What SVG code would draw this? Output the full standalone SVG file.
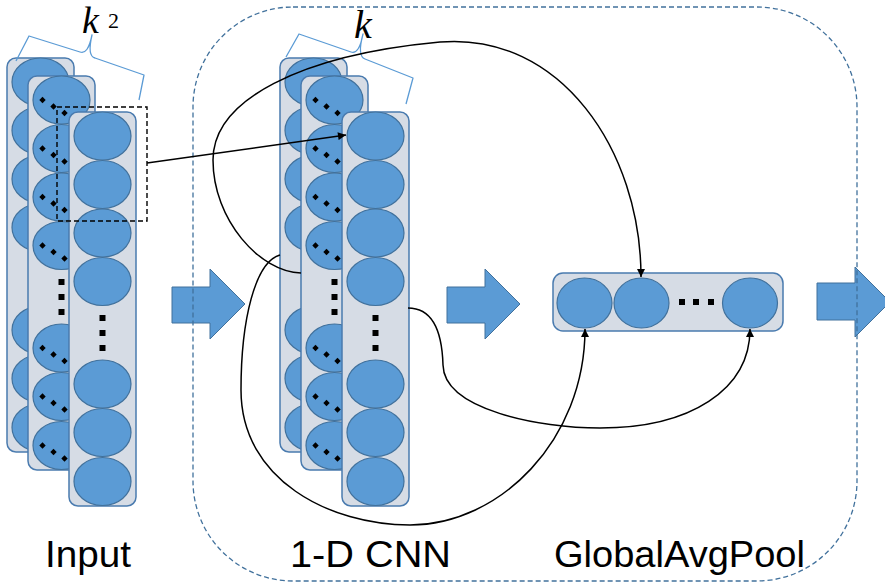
<svg xmlns="http://www.w3.org/2000/svg" width="885" height="583" viewBox="0 0 885 583">
  <style>
    .col{fill:#D6DCE5;stroke:#4A7BAF;stroke-width:1.5}
    .cell{fill:#5B9BD5;stroke:#41719C;stroke-width:1.2}
    .sq{fill:#000}
    .brace{fill:none;stroke:#5B9BD5;stroke-width:1.3;stroke-linejoin:round}
    .blk{fill:#5B9BD5;stroke:#41719C;stroke-width:1}
    .frame{fill:none;stroke:#41719C;stroke-width:1.3;stroke-dasharray:5 3}
    .sel{fill:none;stroke:#000;stroke-width:1.4;stroke-dasharray:5 3}
    .wire{fill:none;stroke:#000;stroke-width:1.5}
    .label{font-family:"Liberation Sans",Arial,sans-serif;font-size:37px;fill:#000}
    .math{font-family:"Liberation Serif","Times New Roman",serif;fill:#000}
  </style>
  <defs>
    <marker id="ah" viewBox="0 0 10 10" refX="10" refY="5" markerWidth="9" markerHeight="8" markerUnits="userSpaceOnUse" orient="auto">
      <path d="M0,0 L10,5 L0,10 z" fill="#000"/>
    </marker>
    <!-- one feature column: rounded bar holding seven cells -->
    <g id="column">
      <rect class="col" x="0" y="0" width="67" height="394" rx="9"/>
      <ellipse class="cell" cx="33.5" cy="24" rx="28.5" ry="24"/>
      <ellipse class="cell" cx="33.5" cy="72.5" rx="28.5" ry="24"/>
      <ellipse class="cell" cx="33.5" cy="121" rx="28.5" ry="24"/>
      <ellipse class="cell" cx="33.5" cy="169.5" rx="28.5" ry="24"/>
      <ellipse class="cell" cx="33.5" cy="272" rx="28.5" ry="24"/>
      <ellipse class="cell" cx="33.5" cy="320.5" rx="28.5" ry="24"/>
      <ellipse class="cell" cx="33.5" cy="369.5" rx="28.5" ry="24"/>
    </g>
    <!-- vertical ellipsis between the cell groups -->
    <g id="vdots" class="sq">
      <rect x="30.5" y="203" width="6" height="6"/>
      <rect x="30.5" y="218" width="6" height="6"/>
      <rect x="30.5" y="233" width="6" height="6"/>
    </g>
    <!-- slanted ellipsis inside a cell -->
    <g id="ddots" class="sq">
      <path d="M-19,-3.2 l3.2,3.2 -3.2,3.2 -3.2,-3.2z"/>
      <path d="M-8,3.3 l3.2,3.2 -3.2,3.2 -3.2,-3.2z"/>
      <path d="M3,9.8 l3.2,3.2 -3.2,3.2 -3.2,-3.2z"/>
    </g>
    <g id="mid-extras">
      <use href="#ddots" x="33.5" y="24"/>
      <use href="#ddots" x="33.5" y="72.5"/>
      <use href="#ddots" x="33.5" y="121"/>
      <use href="#ddots" x="33.5" y="169.5"/>
      <use href="#ddots" x="33.5" y="272"/>
      <use href="#ddots" x="33.5" y="320.5"/>
      <use href="#ddots" x="33.5" y="369.5"/>
      <use href="#vdots"/>
    </g>
  </defs>

  <!-- Input stack -->
  <g id="input-back" transform="translate(7,58)">
    <use href="#column"/>
  </g>
  <g id="input-mid" transform="translate(28,76)">
    <use href="#column"/>
    <use href="#mid-extras"/>
  </g>
  <g id="input-front" transform="translate(69,112)">
    <use href="#column"/>
    <use href="#vdots"/>
  </g>
  <g id="input-window">
    <rect class="sel" x="57" y="107" width="90" height="114"/>
  </g>
  <g id="input-brace">
    <path class="brace" d="M16,61 L29,36 L80,52 Q88,55 92,35 Q87,56 95,58 L144,75 L139,100"/>
    <text class="math" x="82" y="33" font-size="38" font-style="italic">k</text>
    <text class="math" x="108" y="28" font-size="22">2</text>
  </g>

  <!-- 1-D CNN stack -->
  <g id="cnn-back" transform="translate(280,58)">
    <use href="#column"/>
  </g>
  <g id="cnn-mid" transform="translate(301,76)">
    <use href="#column"/>
    <use href="#mid-extras"/>
  </g>
  <g id="cnn-front" transform="translate(342,112)">
    <use href="#column"/>
    <use href="#vdots"/>
  </g>
  <g id="cnn-brace">
    <path class="brace" d="M286,57 L299,34 L351,52 Q359,55 363,34 Q357,56 365,59 L413,78 L406,104"/>
    <text class="math" x="354" y="38" font-size="40" font-style="italic">k</text>
  </g>

  <!-- Global average pooling -->
  <g id="pool">
    <rect class="col" x="553" y="273" width="230" height="58" rx="10"/>
    <ellipse class="cell" cx="584.5" cy="303" rx="27.5" ry="25"/>
    <ellipse class="cell" cx="641.5" cy="303" rx="27.5" ry="25"/>
    <ellipse class="cell" cx="750" cy="303" rx="27.5" ry="25"/>
    <rect class="sq" x="679" y="299" width="6" height="6"/>
    <rect class="sq" x="693" y="299" width="6" height="6"/>
    <rect class="sq" x="708" y="299" width="6" height="6"/>
  </g>

  <!-- flow arrows -->
  <g id="flow-1"><path class="blk" d="M172,287 H210 V269 L245,304 L210,339 V323 H172 Z"/></g>
  <g id="flow-2"><path class="blk" d="M447,287 H485 V269 L520,304 L485,339 V323 H447 Z"/></g>
  <g id="flow-3"><path class="blk" d="M817,283 H855 V267 L890,302 L855,337 V320 H817 Z"/></g>

  <!-- model boundary -->
  <g id="model-frame">
    <rect class="frame" x="193" y="7" width="664" height="574" rx="100" ry="100"/>
  </g>

  <!-- connectors -->
  <g id="connectors">
    <path class="wire" d="M147,163 L346,135" marker-end="url(#ah)"/>
    <path class="wire" d="M301,273 C260,272 213,220 213,160 C213,100 300,55 440,42 C560,32 641,150 641,277" marker-end="url(#ah)"/>
    <path class="wire" d="M280,255 C255,262 241,320 241,390 C241,480 330,525 410,525 C500,525 585,440 585,329" marker-end="url(#ah)"/>
    <path class="wire" d="M408,308 C432,308 442,330 443,365 C444,410 540,428 600,428 C690,428 750,390 750,329" marker-end="url(#ah)"/>
  </g>

  <!-- captions -->
  <g id="captions">
    <text class="label" x="45" y="567" textLength="86" lengthAdjust="spacingAndGlyphs">Input</text>
    <text class="label" x="290" y="567" textLength="161" lengthAdjust="spacingAndGlyphs">1-D CNN</text>
    <text class="label" x="554" y="567" textLength="251" lengthAdjust="spacingAndGlyphs">GlobalAvgPool</text>
  </g>
</svg>
